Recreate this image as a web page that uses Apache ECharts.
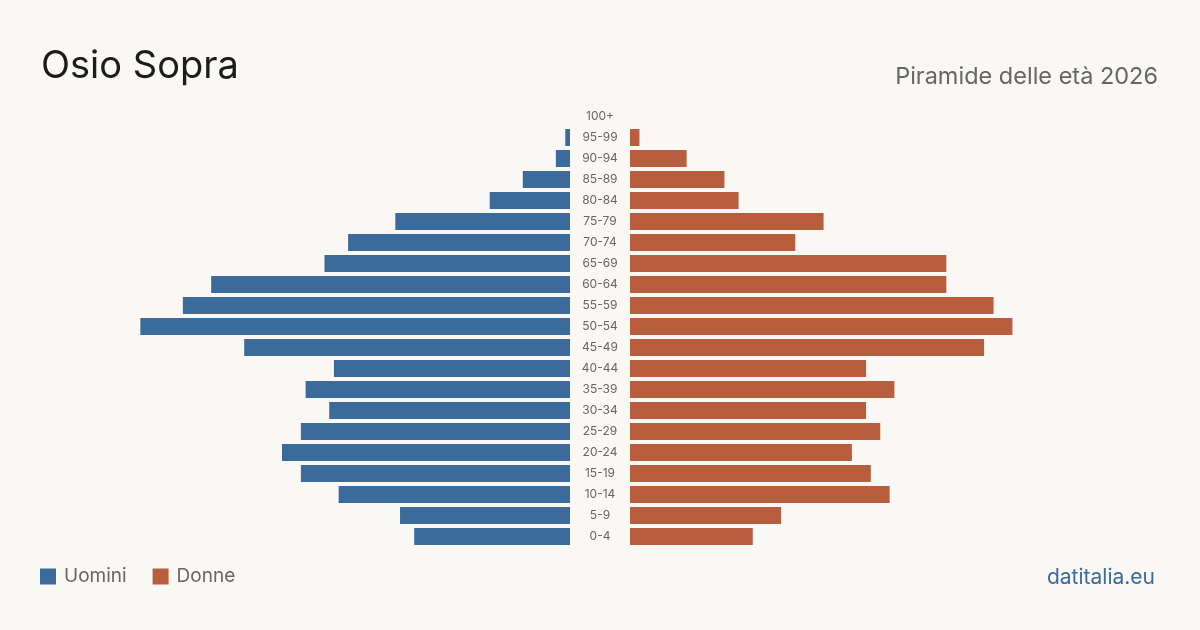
<!DOCTYPE html>
<html>
<head>
<meta charset="utf-8">
<script src="https://cdn.jsdelivr.net/npm/echarts@6/dist/echarts.min.js"></script>
<style>
  html, body { margin: 0; padding: 0; background: #f9f8f4; }
  #chart { width: 1200px; height: 630px; }
</style>
</head>
<body>
<div id="chart"></div>
<script>
// age classes, bottom to top
const ages = ['0-4', '5-9', '10-14', '15-19', '20-24', '25-29', '30-34', '35-39', '40-44', '45-49',
  '50-54', '55-59', '60-64', '65-69', '70-74', '75-79', '80-84', '85-89', '90-94', '95-99', '100+']
const uomini = [33, 36, 49, 57, 61, 57, 51, 56, 50, 69, 91, 82, 76, 52, 47, 37, 17, 10, 3, 1, 0]
const donne = [26, 32, 55, 51, 47, 53, 50, 56, 50, 75, 81, 77, 67, 67, 35, 41, 23, 20, 12, 2, 0]

const blue = '#3b6b9b'
const orange = '#b85d3e'
const font = 'Inter'

const chart = echarts.init(document.getElementById('chart'))
chart.setOption({
  backgroundColor: '#f9f8f4',
  animation: false,
  textStyle: { fontFamily: font },
  title: [
    {
      text: 'Osio Sopra',
      left: 36, top: 43,
      textStyle: { fontSize: 38, fontWeight: 'normal', color: '#1c1c1c', fontFamily: font }
    },
    {
      text: 'Piramide delle età 2026',
      right: 37, top: 60,
      textStyle: { fontSize: 23.5, fontWeight: 'normal', color: '#666', fontFamily: font }
    },
    {
      text: 'datitalia.eu',
      right: 40, top: 562,
      textStyle: { fontSize: 21, fontWeight: 'normal', color: blue, fontFamily: font }
    }
  ],
  legend: {
    left: 35, top: 562,
    icon: 'rect',
    itemWidth: 16, itemHeight: 16,
    itemGap: 26,
    textStyle: { fontSize: 19, color: '#666', fontFamily: font, padding: [0, 0, 0, 3] },
    data: ['Uomini', 'Donne']
  },
  grid: [
    { left: 138, width: 432, top: 106, height: 441 },
    { left: 630, width: 432, top: 106, height: 441 }
  ],
  xAxis: [
    { gridIndex: 0, type: 'value', inverse: true, min: 0, max: 91.5, show: false },
    { gridIndex: 1, type: 'value', min: 0, max: 91.5, show: false }
  ],
  yAxis: [
    {
      gridIndex: 0, type: 'category', data: ages, position: 'right',
      axisLine: { show: false }, axisTick: { show: false }, axisLabel: { show: false }
    },
    {
      gridIndex: 1, type: 'category', data: ages, position: 'left',
      axisLine: { show: false }, axisTick: { show: false },
      axisLabel: { align: 'center', margin: 30, fontSize: 12, color: '#666', fontFamily: font }
    }
  ],
  series: [
    {
      name: 'Uomini', type: 'bar', xAxisIndex: 0, yAxisIndex: 0,
      data: uomini, barWidth: 17, itemStyle: { color: blue }
    },
    {
      name: 'Donne', type: 'bar', xAxisIndex: 1, yAxisIndex: 1,
      data: donne, barWidth: 17, itemStyle: { color: orange }
    }
  ]
})
</script>
</body>
</html>
